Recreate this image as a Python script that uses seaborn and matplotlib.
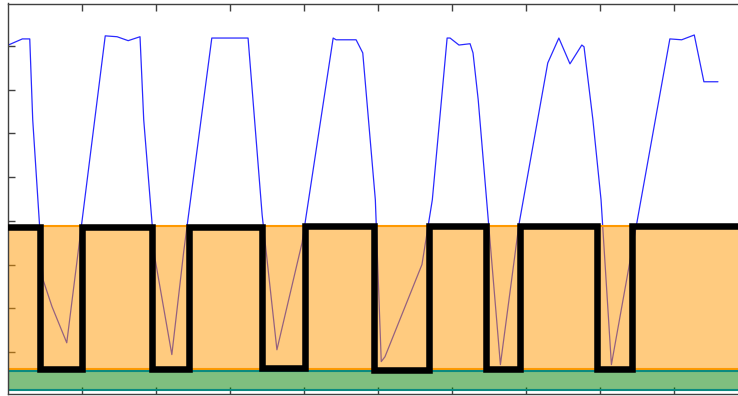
import matplotlib
matplotlib.use("Agg")
import matplotlib.pyplot as plt
import numpy as np
import pandas as pd
import seaborn as sns

# Measured signal (thin blue trace)
signal_t = [0.00, 0.19, 0.29, 0.33, 0.40, 0.47, 0.59, 0.79, 1.31, 1.47, 1.62, 1.78,
            1.83, 1.98, 2.21, 2.37, 2.75, 3.24, 3.43, 3.63, 3.97, 4.39, 4.43, 4.70,
            4.79, 4.96, 5.04, 5.09, 5.59, 5.73, 5.93, 5.97, 6.09, 6.24, 6.28, 6.35,
            6.65, 6.90, 7.29, 7.44, 7.59, 7.75, 7.78, 7.90, 8.01, 8.15, 8.94, 9.10,
            9.27, 9.40, 9.59]
signal_v = [8.02, 8.16, 8.16, 6.31, 4.48, 2.65, 2.04, 1.21, 8.23, 8.21, 8.12, 8.21,
            6.31, 3.16, 0.94, 3.29, 8.18, 8.18, 4.14, 1.05, 3.50, 8.18, 8.14, 8.14,
            7.84, 4.48, 0.78, 0.89, 3.00, 4.48, 8.18, 8.18, 8.02, 8.05, 7.84, 6.77,
            0.71, 3.91, 7.61, 8.18, 7.59, 8.02, 7.98, 6.31, 4.48, 0.71, 8.16, 8.14,
            8.25, 7.18, 7.18]

# On/off state (thick black step trace), value held until the next switch time
state_t = [0.00, 0.43, 0.99, 1.94, 2.44, 3.43, 4.01, 4.94, 5.69, 6.45, 6.92, 7.96, 8.43, 10.00]
state_v = [3.86, 0.61, 3.86, 0.61, 3.85, 0.63, 3.89, 0.59, 3.87, 0.60, 3.88, 0.60, 3.89, 3.89]

# Horizontal bands
upper_band = (0.60, 3.87)
lower_band = (0.12, 0.56)

sig = pd.DataFrame({"t": signal_t, "v": signal_v})
st = pd.DataFrame({"t": state_t, "v": state_v})

sns.set_theme(style="white")
fig = plt.figure(figsize=(7.38, 3.96), dpi=100)
W, H = 738.0, 396.0
left_px, top_px, bottom_px = 8.3, 3.5, 393.5
ax = fig.add_axes([left_px / W, (H - bottom_px) / H, 740.0 / W, (bottom_px - top_px) / H])

sns.lineplot(data=sig, x="t", y="v", ax=ax, sort=False, estimator=None,
             color="#2a2aff", linewidth=0.9, zorder=1)

ax.axhspan(*upper_band, facecolor=(1.0, 0.6, 0.0, 0.5), edgecolor="#ff9900",
           linewidth=1.5, zorder=2)
ax.axhspan(*lower_band, facecolor=(0.0, 0.5, 0.0, 0.5), edgecolor="#0a8a80",
           linewidth=1.5, zorder=2)

sns.lineplot(data=st, x="t", y="v", ax=ax, sort=False, estimator=None,
             color="black", linewidth=4.7, drawstyle="steps-post", zorder=3)
for ln in ax.lines[-1:]:
    ln.set_solid_joinstyle("miter")

ax.set_xlim(0, 10)
ax.set_ylim(0.05, 8.97)
ax.set_xticks(np.arange(1, 10))
ax.set_yticks(np.arange(1, 9))
ax.tick_params(direction="in", top=True, bottom=True, left=True, right=False,
               length=5, width=1, color="#404040",
               labelleft=False, labelbottom=False, labeltop=False)
ax.set_xlabel("")
ax.set_ylabel("")
for s in ax.spines.values():
    s.set_color("#404040")
    s.set_linewidth(1.0)
    s.set_visible(True)

fig.savefig("out.png", dpi=100)
